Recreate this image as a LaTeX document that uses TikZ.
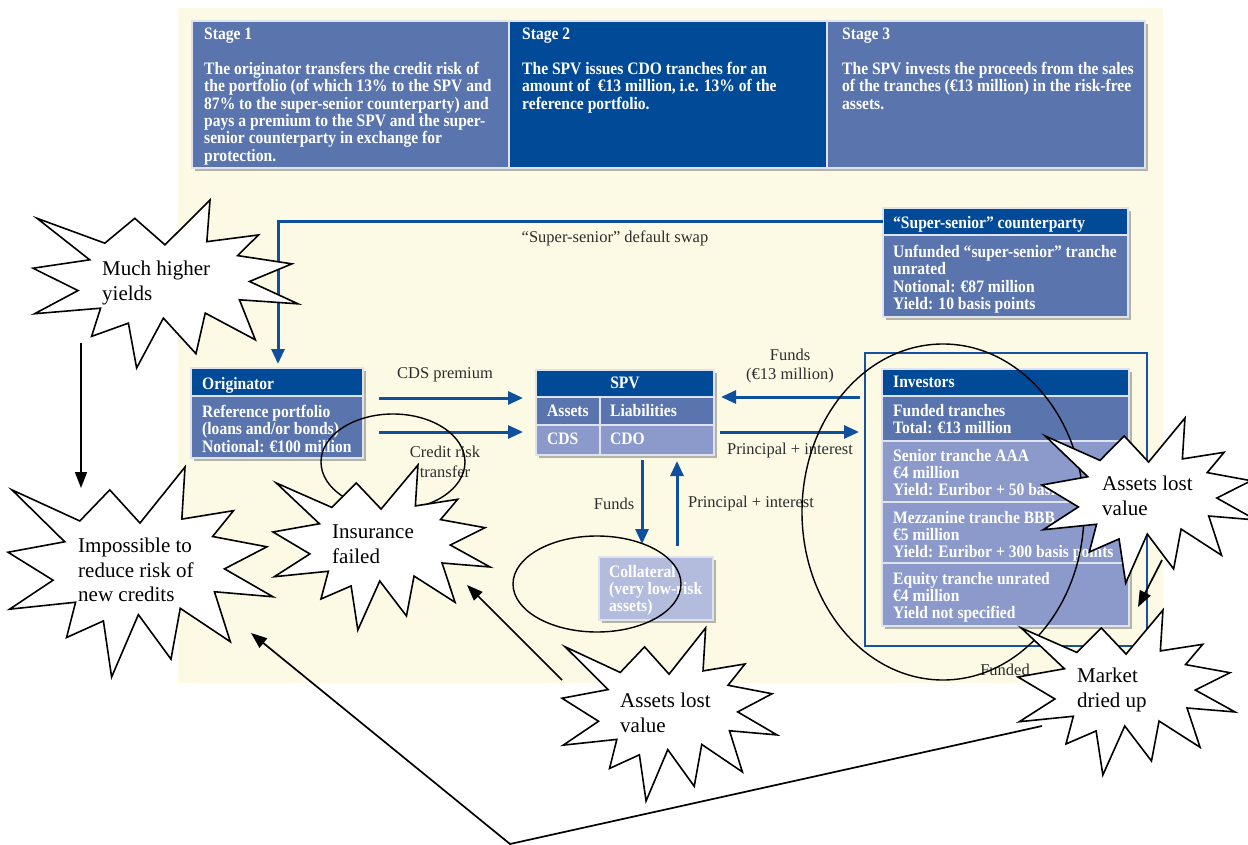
\documentclass[tikz,border=0pt]{standalone}
\usepackage{fontspec}
\setmainfont{Liberation Serif}
\newfontfamily\condfont[FakeStretch=0.89]{Liberation Serif}
\usetikzlibrary{arrows.meta,shadows,calc}
\definecolor{cream}{RGB}{252,250,228}
\definecolor{dkblue}{RGB}{0,74,151}
\definecolor{midblue}{RGB}{90,116,174}
\definecolor{ltblue}{RGB}{139,153,203}
\definecolor{paleblue}{RGB}{180,188,222}
\definecolor{arrblue}{RGB}{14,80,158}
\definecolor{framblue}{RGB}{22,82,160}
\definecolor{txtgrey}{RGB}{45,45,45}
\newcommand{\burstpts}{0.656/0.248,0.851/0.208,0.772/0.331,0.977/0.380,0.817/0.485,1.0/0.618,0.779/0.594,0.839/0.832,0.650/0.673,0.615/0.915,0.492/0.703,0.391/1.0,0.360/0.733,0.221/0.812,0.255/0.644,0.006/0.677,0.170/0.539,0.0/0.406,0.214/0.356,0.015/0.109,0.271/0.257,0.384/0.109,0.498/0.267}
\newcommand{\drawburst}[4]{\draw[burst] ({#1+0.668*#3},{#2}) \foreach \bxu/\bxv in \burstpts {-- ({#1+\bxu*#3},{#2+\bxv*#4})} -- cycle;}
\begin{document}
\begin{tikzpicture}[x=1pt,y=-1pt,
  cell/.style={draw=white!80!midblue, line width=1.1pt, inner sep=0pt, outer sep=0pt, anchor=north west},
  panel/.style={cell, drop shadow={shadow xshift=3pt, shadow yshift=-3pt, fill=black, opacity=0.28}},
  btxt/.style={anchor=north west, inner sep=0pt, align=left, text=white, font=\condfont\bfseries\fontsize{17.5}{17.3}\selectfont},
  ctxt/.style={anchor=west, inner sep=0pt, text=white, font=\condfont\bfseries\fontsize{17.5}{17.3}\selectfont},
  ltxt/.style={inner sep=0pt, align=center, text=txtgrey, font=\fontsize{16.5}{19.5}\selectfont},
  stxt/.style={anchor=north west, inner sep=0pt, align=left, text=black, font=\fontsize{21}{24.5}\selectfont},
  barrow/.style={draw=arrblue, line width=3pt, -{Triangle[length=15pt,width=13pt]}},
  karrow/.style={draw=black, line width=1.7pt, -{Triangle[length=16pt,width=12pt]}},
  ring/.style={draw=black, line width=1.4pt},
  burst/.style={draw=black, fill=white, line width=1.6pt, line join=miter}]
\useasboundingbox (0,0) rectangle (1248,845);
\fill[white] (0,0) rectangle (1248,845);
\fill[cream] (178,8) rectangle (1163,683);

% ---- stage panels
\node[panel, fill=midblue, minimum width=953pt, minimum height=147pt] (stages) at (192,21) {};
\node[cell, fill=midblue, minimum width=317pt, minimum height=147pt] (st1) at (192,21) {};
\node[cell, fill=dkblue, minimum width=318pt, minimum height=147pt] (st2) at (509,21) {};
\node[cell, fill=midblue, minimum width=318pt, minimum height=147pt] (st3) at (827,21) {};
\node[btxt] (st1h) at (204,28) {Stage 1};
\node[btxt] (st1b) at (204,62) {The originator transfers the credit risk of\\the portfolio (of which 13\% to the SPV and\\87\% to the super-senior counterparty) and\\pays a premium to the SPV and the super-\\senior counterparty in exchange for\\protection.};
\node[btxt] (st2h) at (522,28) {Stage 2};
\node[btxt] (st2b) at (522,62) {The SPV issues CDO tranches for an\\amount of \ €13 million, i.e. 13\% of the\\reference portfolio.};
\node[btxt] (st3h) at (842,28) {Stage 3};
\node[btxt] (st3b) at (842,62) {The SPV invests the proceeds from the sales\\of the tranches (€13 million) in the risk-free\\assets.};

% ---- super-senior counterparty
\node[panel, fill=midblue, minimum width=245pt, minimum height=109pt] (ss) at (883,208) {};
\node[cell, fill=dkblue, minimum width=245pt, minimum height=27pt] (sshead) at (883,208) {};
\node[cell, fill=midblue, minimum width=245pt, minimum height=82pt] (ssbody) at (883,235) {};
\node[btxt] (sshtxt) at (893,216) {“Super-senior” counterparty};
\node[btxt] (ssbtxt) at (893,245) {Unfunded “super-senior” tranche\\unrated\\Notional: €87 million\\Yield: 10 basis points};

% ---- originator
\node[panel, fill=midblue, minimum width=172pt, minimum height=90pt] (orig) at (191,368) {};
\node[cell, fill=dkblue, minimum width=172pt, minimum height=28pt] (orighead) at (191,368) {};
\node[cell, fill=midblue, minimum width=172pt, minimum height=62pt] (origbody) at (191,396) {};
\node[btxt] (orightxt) at (202,377) {Originator};
\node[btxt] (origbtxt) at (202,405) {Reference portfolio\\(loans and/or bonds)\\Notional: €100 million};

% ---- SPV
\node[panel, fill=midblue, minimum width=178pt, minimum height=85pt] (spv) at (536,370) {};
\node[cell, fill=dkblue, minimum width=178pt, minimum height=27pt] (spvhead) at (536,370) {};
\node[cell, fill=midblue, minimum width=64pt, minimum height=28pt] (spva) at (536,397) {};
\node[cell, fill=midblue, minimum width=114pt, minimum height=28pt] (spvl) at (600,397) {};
\node[cell, fill=ltblue, minimum width=64pt, minimum height=30pt] (spvc) at (536,425) {};
\node[cell, fill=ltblue, minimum width=114pt, minimum height=30pt] (spvd) at (600,425) {};
\node[ctxt, anchor=center] (spvtxt) at (625,383) {SPV};
\node[ctxt] (spvatxt) at (547,411) {Assets};
\node[ctxt] (spvltxt) at (610,411) {Liabilities};
\node[ctxt] (spvctxt) at (547,439) {CDS};
\node[ctxt] (spvdtxt) at (610,439) {CDO};

% ---- collateral
\node[panel, fill=paleblue, minimum width=114pt, minimum height=63pt] (collat) at (599,557) {};
\node[btxt] (collattxt) at (609,565) {Collateral\\(very low-risk\\assets)};

% ---- investors
\node[draw=framblue, line width=2.4pt, fill=cream, inner sep=0pt, anchor=north west, minimum width=282pt, minimum height=293pt] (invframe) at (864,352) {};
\node[panel, fill=ltblue, minimum width=247pt, minimum height=257pt] (inv) at (882,369) {};
\node[cell, fill=dkblue, minimum width=247pt, minimum height=27pt] (invhead) at (882,369) {};
\node[cell, fill=midblue, minimum width=247pt, minimum height=45pt] (invfund) at (882,396) {};
\node[cell, fill=ltblue, minimum width=247pt, minimum height=61pt] (invsen) at (882,441) {};
\node[cell, fill=ltblue, minimum width=247pt, minimum height=61pt] (invmez) at (882,502) {};
\node[cell, fill=ltblue, minimum width=247pt, minimum height=63pt] (inveq) at (882,563) {};
\node[btxt] (invhtxt) at (893,376) {Investors};
\node[btxt] (invftxt) at (893,404) {Funded tranches\\Total: €13 million};
\node[btxt] (invstxt) at (893,449) {Senior tranche AAA\\€4 million\\Yield: Euribor + 50 basis points};
\node[btxt] (invmtxt) at (893,511) {Mezzanine tranche BBB\\€5 million\\Yield: Euribor + 300 basis points};
\node[btxt] (invetxt) at (893,572) {Equity tranche unrated\\€4 million\\Yield not specified};

% ---- blue connectors
\draw[barrow] (sshead.west) -| ($(orig.north)+(1,-4)$);
\draw[barrow] ($(orig.east)+(16,-15)$) -- ($(spv.west|-orig.east)+(-13,-15)$);
\draw[barrow] ($(orig.east)+(16,19)$) -- ($(spv.west|-orig.east)+(-13,19)$);
\draw[barrow] ($(invframe.west|-spv.east)+(-4,-15.5)$) -- ($(spv.east)+(7,-15.5)$);
\draw[barrow] ($(spv.east)+(6,19.5)$) -- ($(invframe.west|-spv.east)+(-5,19.5)$);
\draw[barrow] ($(spv.south)+(17,5)$) -- ($(collat.north)+(-14,-13)$);
\draw[barrow] ($(collat.north)+(21,-11)$) -- ($(spv.south)+(52,6)$);

% ---- connector labels
\node[ltxt] (lswap) at (615,238) {“Super-senior” default swap};
\node[ltxt] (lcds) at (445,375) {CDS premium};
\node[ltxt] (lcrt) at (445,462) {Credit risk\\transfer};
\node[ltxt] (lfunds1) at (790,366) {Funds\\(€13 million)};
\node[ltxt] (lpi1) at (790,451) {Principal + interest};
\node[ltxt] (lfunds2) at (614,504) {Funds};
\node[ltxt] (lpi2) at (751,504) {Principal + interest};
\node[ltxt] (lfunded) at (1005,670) {Funded};

% ---- ellipses
\draw[ring] (393,462) ellipse [x radius=72, y radius=48];
\draw[ring] (597,584) ellipse [x radius=84, y radius=48];
\draw[ring] (943,512) ellipse [x radius=141, y radius=168];

% ---- bursts
\drawburst{33}{200}{265}{168}
\node[stxt] (bhigh) at (102,261) {Much higher\\yields};
\drawburst{8}{467}{265}{210}
\node[stxt] (bimp) at (78,538) {Impossible to\\reduce risk of\\new credits};
\drawburst{273}{465}{217}{165}
\node[stxt] (bins) at (332,525) {Insurance\\failed};
\drawburst{562}{628}{215}{173}
\node[stxt] (bass1) at (620,693) {Assets lost\\value};
\drawburst{1042}{418}{214}{165}
\node[stxt] (bass2) at (1102,476) {Assets lost\\value};
\drawburst{1018}{610}{217}{165}
\node[stxt] (bmkt) at (1077,668) {Market\\dried up};

% ---- black connectors
\coordinate (highout) at (81,343);
\coordinate (impin) at (81,488);
\coordinate (ass2out) at (1162,560);
\coordinate (mktin) at (1138,607);
\coordinate (ass1out) at (562,680);
\coordinate (insin) at (467,585);
\coordinate (vtx) at (510,844);
\coordinate (impin2) at (251,633);
\coordinate (mktin2) at (1042,726);
\draw[karrow] (highout) -- (impin);
\draw[karrow] (ass2out) -- (mktin);
\draw[karrow] (ass1out) -- (insin);
\draw[karrow, {Triangle[length=16pt,width=12pt]}-] (impin2) -- (vtx) -- (mktin2);
\end{tikzpicture}
\end{document}
